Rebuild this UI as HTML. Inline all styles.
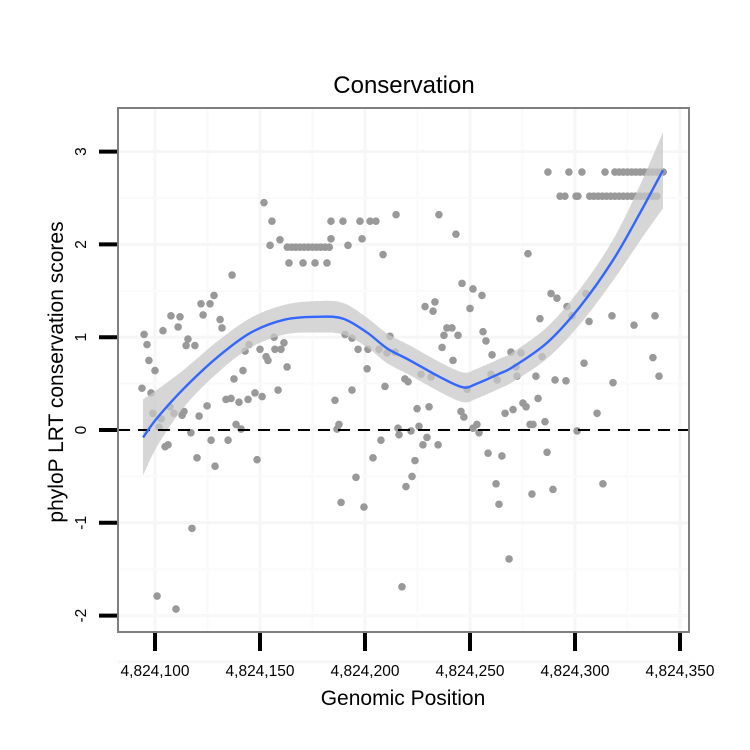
<!DOCTYPE html>
<html><head><meta charset="utf-8"><style>
body{margin:0;background:#fff}
svg{display:block;font-family:"Liberation Sans",sans-serif}
</style></head><body>
<svg id="chart" width="750" height="750"></svg>
<script>
const xTicks=[4824100,4824150,4824200,4824250,4824300,4824350];
const xTickLabels=["4,824,100","4,824,150","4,824,200","4,824,250","4,824,300","4,824,350"];
const yTicks=[-2,-1,0,1,2,3];
const yTickLabels=["-2","-1","0","1","2","3"];
const pointPos=[151.9,155.7,159.5,154.8,163,165,167,169,171,173,175,177,179,181,183,163.8,170.5,176.2,136.7,128.1,121.9,126.2,122.9,107.6,111.9,131,131.9,111,103.8,94.8,96.2,115.7,114.8,119,97.1,100,156.7,161.4,160,157.1,144.8,142.9,150,152.9,153.8,162.9,141.9,137.6,93.8,98.1,158.6,133.8,136.2,140,144.3,147.6,151,107.1,99,109,113.8,112.9,124.8,121,102.9,101.9,138.6,141,117.1,126.7,134.8,106.2,104.8,120,128.6,148.6,117.6,101,110,
183.8,189.5,197.6,202.4,205.2,214.8,235.2,243.3,183.8,198.6,191.9,181.9,208.6,246.2,251.4,255.7,228.6,233.3,232.4,250,190.5,193.8,196.7,201.4,206.7,211.9,210.5,214.3,201,209.5,193.8,185.7,219,220.5,226.7,231.4,239,241.4,237.6,244.3,236.7,241.9,256.2,257.6,260.5,260,262.9,248.6,224.8,230.5,245.7,247.1,187.6,186.7,215.7,216.2,221.9,225.7,229.5,227.6,234.8,253.3,254.3,251.4,207.6,203.8,223.8,258.6,195.7,222.4,219.5,188.6,199.5,262.4,263.8,217.6,
287.1,297.1,303.3,314.3,319,321,323,325,327,329,331,333,335,337,339,341,342,292.9,295.2,300.5,301.4,307,309,311,313,315,317,319,321,323,325,327,329,331,333,335,337,339,277.6,288.6,291.4,305.2,283.3,296.2,298.6,306.7,317.6,328.1,338.1,269.5,274.3,271.9,284.3,304.3,337.1,272.4,281.4,290.5,295.7,318.1,340,275.2,276.7,282.4,266.7,270.5,310.5,278.6,280,285.7,301,265.2,286.7,279.5,289.5,313.3,268.6];
const pointScore=[2.45,2.25,2.05,1.99,1.97,1.97,1.97,1.97,1.97,1.97,1.97,1.97,1.97,1.97,1.97,1.80,1.80,1.80,1.67,1.45,1.36,1.36,1.24,1.23,1.22,1.19,1.10,1.11,1.07,1.03,0.92,0.98,0.91,0.91,0.75,0.64,1.00,0.94,0.87,0.87,0.92,0.85,0.87,0.79,0.75,0.68,0.64,0.55,0.45,0.40,0.43,0.33,0.34,0.30,0.33,0.40,0.36,0.25,0.18,0.18,0.20,0.16,0.26,0.15,0.12,0.03,0.06,0.01,-0.03,-0.11,-0.11,-0.16,-0.18,-0.30,-0.39,-0.32,-1.06,-1.79,-1.93,
2.25,2.25,2.25,2.25,2.25,2.32,2.32,2.11,2.06,2.06,1.99,1.80,1.89,1.58,1.52,1.45,1.33,1.38,1.28,1.31,1.03,0.99,0.87,0.87,0.87,1.01,0.83,0.84,0.66,0.47,0.43,0.32,0.55,0.52,0.60,0.57,1.10,1.10,1.02,1.02,0.89,0.75,1.06,0.96,0.81,0.60,0.54,0.44,0.23,0.25,0.20,0.14,0.06,0.01,0.02,-0.05,-0.01,0.04,-0.08,-0.16,-0.16,0.06,-0.03,0.02,-0.11,-0.30,-0.33,-0.25,-0.51,-0.50,-0.61,-0.78,-0.83,-0.58,-0.80,-1.69,
2.78,2.78,2.78,2.78,2.78,2.78,2.78,2.78,2.78,2.78,2.78,2.78,2.78,2.78,2.78,2.78,2.78,2.52,2.52,2.52,2.52,2.52,2.52,2.52,2.52,2.52,2.52,2.52,2.52,2.52,2.52,2.52,2.52,2.52,2.52,2.52,2.52,2.52,1.90,1.47,1.42,1.47,1.20,1.33,1.23,1.17,1.23,1.13,1.23,0.84,0.83,0.68,0.79,0.72,0.78,0.58,0.58,0.54,0.53,0.51,0.58,0.29,0.25,0.34,0.18,0.22,0.18,0.06,0.06,0.09,-0.01,-0.28,-0.24,-0.69,-0.64,-0.58,-1.39];
const fitPos=[94.3,101.4,114.3,130,145.7,161.9,177.6,189.5,201,210.5,221.4,235.7,246.7,253.3,264.3,270.5,286.7,302.4,318.1,331,341.9];
const fitVal=[-0.08,0.14,0.46,0.79,1.05,1.19,1.22,1.20,1.05,0.88,0.75,0.57,0.46,0.50,0.61,0.68,0.94,1.33,1.83,2.34,2.80];
const fitSe=[0.41,0.30,0.20,0.17,0.16,0.16,0.17,0.17,0.16,0.16,0.16,0.16,0.16,0.16,0.16,0.16,0.17,0.19,0.22,0.30,0.41];

const NS="http://www.w3.org/2000/svg";
const svg=document.getElementById('chart');
const L=118,R=689,T=108,B=632;
function sx(v){return 155+(v-4824100)*2.1;}
function sxo(o){return sx(4824000+o);}
function sy(v){return 430-v*92.8;}
function mk(tag,attrs,parent){const e=document.createElementNS(NS,tag);for(const k in attrs)e.setAttribute(k,attrs[k]);(parent||svg).appendChild(e);return e;}
function smoothPath(P,start){
  let d=(start?'M':'L')+P[0][0].toFixed(2)+','+P[0][1].toFixed(2);
  for(let i=0;i<P.length-1;i++){
    const p0=P[Math.max(0,i-1)],p1=P[i],p2=P[i+1],p3=P[Math.min(P.length-1,i+2)];
    const c1=[p1[0]+(p2[0]-p0[0])/6,p1[1]+(p2[1]-p0[1])/6];
    const c2=[p2[0]-(p3[0]-p1[0])/6,p2[1]-(p3[1]-p1[1])/6];
    d+='C'+c1[0].toFixed(2)+','+c1[1].toFixed(2)+' '+c2[0].toFixed(2)+','+c2[1].toFixed(2)+' '+p2[0].toFixed(2)+','+p2[1].toFixed(2);
  }
  return d;
}

const title=mk('text',{x:404,y:93,'text-anchor':'middle','font-size':24,fill:'#000'});
title.textContent='Conservation';



const grid=mk('g',{});


xTicks.forEach((t,i)=>{
  const x=sx(t);
  const gl=mk('line',{x1:x,x2:x,y1:T,y2:B,stroke:'#f6f6f6','stroke-width':3},grid);
  
  
  if(i<xTicks.length-1){const xm=sx(t+25);
    const gm=mk('line',{x1:xm,x2:xm,y1:T,y2:B,stroke:'#fafafa','stroke-width':2},grid);
    
    }
});
[...yTicks,-2.5].forEach((t)=>{
  const y=sy(t);
  const gl=mk('line',{x1:L,x2:R,y1:y,y2:y,stroke:'#f6f6f6','stroke-width':3},grid);
  
  
  const ym=sy(t+0.5);
  if(ym>T){const gm=mk('line',{x1:L,x2:R,y1:ym,y2:ym,stroke:'#fafafa','stroke-width':2},grid);
  
  }
});

const pts=mk('g',{fill:'#999999'});


pointPos.forEach((p,i)=>{
  const c=mk('circle',{cx:sxo(p),cy:sy(pointScore[i]),r:3.8},pts);
  
  
});

const upP=fitPos.map((p,i)=>[sxo(p),sy(fitVal[i]+fitSe[i])]);
const loP=fitPos.map((p,i)=>[sxo(p),sy(fitVal[i]-fitSe[i])]).reverse();
const band=mk('path',{d:smoothPath(upP,true)+smoothPath(loP,false)+'Z',fill:'#c8c8c8','fill-opacity':0.75});



const zl=mk('line',{x1:L,x2:R,y1:sy(0),y2:sy(0),stroke:'#000','stroke-width':2,'stroke-dasharray':'12,8'});



const fitP=fitPos.map((p,i)=>[sxo(p),sy(fitVal[i])]);
const fl=mk('path',{d:smoothPath(fitP,true),fill:'none',stroke:'#3366ff','stroke-width':2.4,'stroke-linejoin':'round'});



const frame=mk('rect',{x:L,y:T,width:R-L,height:B-T,fill:'none',stroke:'#7f7f7f','stroke-width':2});



xTicks.forEach((t,i)=>{
  const x=sx(t);
  const tk=mk('line',{x1:x,x2:x,y1:633,y2:651,stroke:'#000','stroke-width':4});
  
  
  const lb=mk('text',{x:x,y:676,'text-anchor':'middle','font-size':15.5,fill:'#000'});
  lb.textContent=xTickLabels[i];
  
  
});
yTicks.forEach((t,i)=>{
  const y=sy(t);
  const tk=mk('line',{x1:99,x2:117,y1:y,y2:y,stroke:'#000','stroke-width':4});
  
  
  const lb=mk('text',{x:0,y:0,'text-anchor':'middle','font-size':15.5,fill:'#000',transform:`translate(86,${y}) rotate(-90)`});
  lb.textContent=yTickLabels[i];
  
  
});

const xt=mk('text',{x:403,y:705,'text-anchor':'middle','font-size':21,fill:'#000'});
xt.textContent='Genomic Position';


const yt=mk('text',{x:0,y:0,'text-anchor':'middle','font-size':21,fill:'#000',transform:'translate(63,372) rotate(-90)'});
yt.textContent='phyloP LRT conservation scores';


</script>
</body></html>
